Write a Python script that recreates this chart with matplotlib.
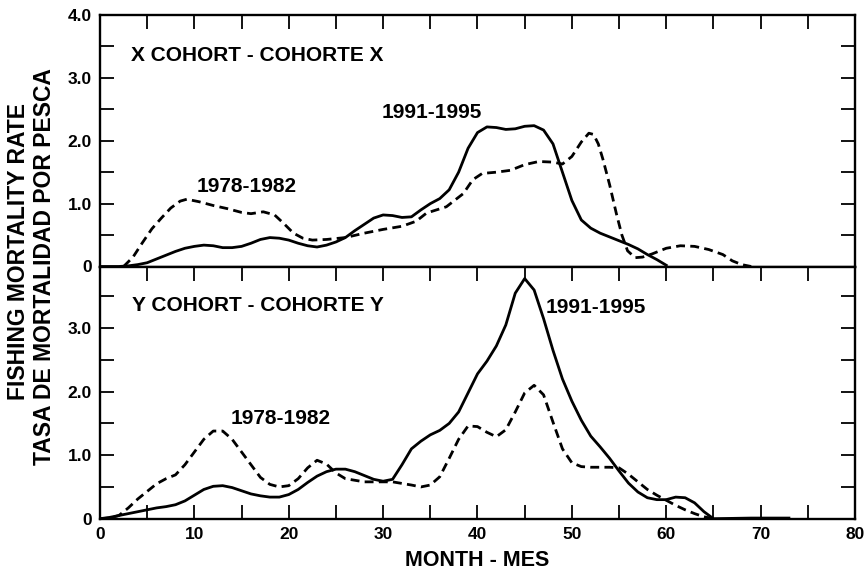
import matplotlib
matplotlib.use("Agg")
import matplotlib.pyplot as plt

plt.rcParams["font.family"] = ["Liberation Sans", "DejaVu Sans"]
plt.rcParams["font.weight"] = "bold"

# ---- X cohort: fishing mortality by month of age ----
x_old_month = [2.5, 3.5, 4.5, 5.5, 6.5, 7.5, 8.5, 9.2, 10.5, 12, 13.5, 15, 16, 17.3, 18.5,
               19.5, 20.5, 21.5, 22.5, 24, 26, 28, 30, 32, 33.5, 34.6, 36.7, 38.5, 39.5,
               40.5, 42, 43.5, 45, 46.5, 48, 49, 50, 51, 51.8, 52.3, 52.8, 53.3, 54,
               54.7, 55.3, 55.9, 56.7, 57.5, 58.5, 60, 61.5, 63, 64.5, 66, 67, 68, 69]
x_old_f = [0.0, 0.15, 0.38, 0.6, 0.77, 0.93, 1.04, 1.07, 1.03, 0.97, 0.92, 0.86, 0.84, 0.87, 0.82,
           0.68, 0.53, 0.45, 0.42, 0.43, 0.46, 0.53, 0.59, 0.64, 0.72, 0.85, 0.95, 1.16, 1.38,
           1.48, 1.5, 1.53, 1.62, 1.67, 1.66, 1.63, 1.75, 1.98, 2.12, 2.1, 1.95, 1.7, 1.3,
           0.85, 0.5, 0.25, 0.14, 0.15, 0.2, 0.29, 0.33, 0.32, 0.27, 0.19, 0.09, 0.03, 0.0]

x_new_month = [0, 2, 3, 4, 5, 6, 7, 8, 9, 10, 11, 12, 13, 14, 15, 16, 17, 18, 19, 20,
               21, 22, 23, 24, 25, 26, 27, 28, 29, 30, 31, 32, 33, 34, 35, 36, 37, 38, 39, 40,
               41, 42, 43, 44, 45, 46, 47, 48, 49, 50, 51, 52, 53, 54, 55, 56, 57, 58, 59, 60]
x_new_f = [0.0, 0.0, 0.01, 0.03, 0.06, 0.12, 0.18, 0.24, 0.29, 0.32, 0.34, 0.33, 0.3, 0.3, 0.32,
           0.37, 0.43, 0.46, 0.45, 0.42, 0.37, 0.33, 0.31, 0.34, 0.39, 0.46, 0.57, 0.67, 0.77,
           0.82, 0.81, 0.78, 0.79, 0.9, 1.0, 1.08, 1.22, 1.5, 1.88, 2.13, 2.22, 2.21, 2.18,
           2.19, 2.23, 2.24, 2.17, 1.95, 1.5, 1.05, 0.74, 0.61, 0.53, 0.47, 0.41, 0.35, 0.28,
           0.19, 0.11, 0.02]

# ---- Y cohort ----
y_old_month = [0, 1, 2, 3, 4, 5, 6, 7, 8, 9, 10, 11, 12, 13, 14, 15, 16, 17, 18, 19, 20,
               21, 22, 23, 24, 25, 26, 28, 31, 33, 34, 35, 36, 37, 38, 39, 40, 41, 42, 43,
               44, 45, 46, 47, 48, 49, 50, 51, 52, 53, 54, 55, 56, 57, 58, 59, 60, 61, 62,
               63, 64, 65]
y_old_f = [0.0, 0.01, 0.05, 0.17, 0.31, 0.43, 0.55, 0.63, 0.69, 0.85, 1.05, 1.25, 1.38, 1.38,
           1.25, 1.05, 0.85, 0.65, 0.54, 0.5, 0.52, 0.63, 0.8, 0.92, 0.86, 0.72, 0.63, 0.58,
           0.58, 0.53, 0.5, 0.53, 0.66, 0.95, 1.25, 1.46, 1.45, 1.36, 1.29, 1.4, 1.68, 1.98,
           2.1, 1.95, 1.52, 1.1, 0.88, 0.82, 0.81, 0.81, 0.81, 0.8, 0.7, 0.58, 0.46, 0.37,
           0.29, 0.21, 0.14, 0.08, 0.03, 0.0]

y_new_month = [0, 1, 2, 3, 4, 5, 6, 7, 8, 9, 10, 11, 12, 13, 14, 15, 16, 17, 18, 19, 20,
               21, 22, 23, 24, 25, 26, 27, 28, 29, 30, 31, 32, 33, 34, 35, 36, 37, 38, 39,
               40, 41, 42, 43, 44, 45, 46, 47, 48, 49, 50, 51, 52, 53, 54, 55, 56, 57, 58,
               59, 60, 61, 62, 63, 64, 65, 69, 73]
y_new_f = [0.0, 0.02, 0.05, 0.08, 0.11, 0.14, 0.17, 0.19, 0.22, 0.28, 0.37, 0.46, 0.51, 0.52,
           0.49, 0.44, 0.39, 0.36, 0.34, 0.34, 0.38, 0.46, 0.57, 0.67, 0.74, 0.78, 0.78, 0.74,
           0.68, 0.62, 0.59, 0.62, 0.85, 1.1, 1.22, 1.32, 1.39, 1.5, 1.68, 1.98, 2.28, 2.48,
           2.72, 3.05, 3.55, 3.78, 3.6, 3.15, 2.65, 2.2, 1.85, 1.55, 1.3, 1.13, 0.95, 0.75,
           0.56, 0.42, 0.33, 0.3, 0.3, 0.34, 0.33, 0.25, 0.11, 0.0, 0.01, 0.01]

x_ticks = list(range(0, 81, 5))
x_tick_labels = [str(v) if v % 10 == 0 else "" for v in x_ticks]
top_y_ticks = [0, 0.5, 1.0, 1.5, 2.0, 2.5, 3.0, 3.5, 4.0]
top_y_labels = ["0", "", "1.0", "", "2.0", "", "3.0", "", "4.0"]
bot_y_ticks = [0, 0.5, 1.0, 1.5, 2.0, 2.5, 3.0, 3.5]
bot_y_labels = ["0", "", "1.0", "", "2.0", "", "3.0", ""]

fig = plt.figure(figsize=(8.65, 5.76), dpi=100)
fig.patch.set_facecolor("white")
ax1 = fig.add_axes([100 / 865, 1 - 266.5 / 576, 755 / 865, 251.5 / 576])
ax2 = fig.add_axes([100 / 865, 1 - 518.7 / 576, 755 / 865, 252.2 / 576])

LW = 2.0
DASH = (3.2, 1.9)

ax1.plot(x_new_month, x_new_f, color="black", lw=LW, solid_joinstyle="round")
ax1.plot(x_old_month, x_old_f, color="black", lw=LW, ls="--", dashes=DASH)
ax2.plot(y_new_month, y_new_f, color="black", lw=LW, solid_joinstyle="round")
ax2.plot(y_old_month, y_old_f, color="black", lw=LW, ls="--", dashes=DASH)

for ax in (ax1, ax2):
    ax.set_xlim(0, 80)
    for s in ax.spines.values():
        s.set_linewidth(1.7)
    ax.set_xticks(x_ticks)
    ax.tick_params(direction="in", length=10, width=1.3, right=True, top=True,
                   labelsize=12.5, pad=6)

ax1.set_ylim(0, 4.0)
ax1.set_yticks(top_y_ticks)
ax1.set_yticklabels(top_y_labels)
ax1.tick_params(axis="x", bottom=False, labelbottom=False)

ax2.set_ylim(0, 3.97)
ax2.set_yticks(bot_y_ticks)
ax2.set_yticklabels(bot_y_labels)
ax2.set_xticklabels(x_tick_labels)

for lab in ax1.get_yticklabels() + ax2.get_yticklabels() + ax2.get_xticklabels():
    lab.set_fontweight("bold")

TS = 15
ax1.text(3.3, 3.36, "X COHORT - COHORTE X", fontsize=TS, fontweight="bold", va="center")
ax1.text(10.2, 1.27, "1978-1982", fontsize=TS, fontweight="bold", va="center")
ax1.text(29.8, 2.45, "1991-1995", fontsize=TS, fontweight="bold", va="center")
ax2.text(3.4, 3.35, "Y COHORT - COHORTE Y", fontsize=TS, fontweight="bold", va="center")
ax2.text(13.8, 1.57, "1978-1982", fontsize=TS, fontweight="bold", va="center")
ax2.text(47.2, 3.33, "1991-1995", fontsize=TS, fontweight="bold", va="center")

fig.text(0.552, 1 - 561 / 576, "MONTH - MES", fontsize=15.5, fontweight="bold",
         ha="center", va="center")
fig.text(19 / 865, 1 - 252 / 576, "FISHING MORTALITY RATE", fontsize=16.5,
         fontweight="bold", rotation=90, ha="center", va="center")
fig.text(45 / 865, 1 - 266.5 / 576, "TASA DE MORTALIDAD POR PESCA", fontsize=16.5,
         fontweight="bold", rotation=90, ha="center", va="center")

fig.savefig("out.png", dpi=100, facecolor="white")
